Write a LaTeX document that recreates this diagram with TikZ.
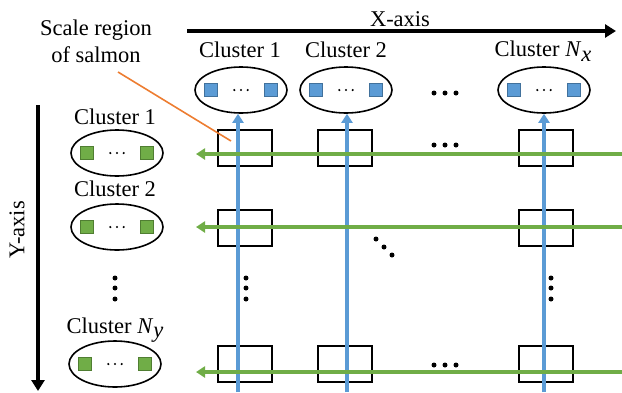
\documentclass[tikz,border=0pt]{standalone}
\usepackage{fontspec}
\setmainfont{Liberation Serif}
\usetikzlibrary{arrows.meta,shapes.geometric}
\definecolor{oblue}{HTML}{5B9BD5}
\definecolor{obluedk}{HTML}{41719C}
\definecolor{ogreen}{HTML}{70AD47}
\definecolor{ogreendk}{HTML}{507E32}
\definecolor{oorange}{HTML}{ED7D31}
\newcommand{\idx}[1]{\textit{N}\raisebox{-0.45ex}{\textit{#1}}}
\begin{document}
\begin{tikzpicture}[x=1pt,y=-1pt,
  every node/.style={font=\fontsize{22.5}{26}\selectfont},
  clus/.style={ellipse,draw,line width=1.6pt,minimum width=92pt,minimum height=46pt,inner sep=0pt},
  cell/.style={draw,line width=1.6pt,minimum width=54pt,minimum height=36pt,inner sep=0pt},
  bsq/.style={draw=obluedk,fill=oblue,line width=0.8pt,minimum size=13pt,inner sep=0pt},
  gsq/.style={draw=ogreendk,fill=ogreen,line width=0.8pt,minimum size=13pt,inner sep=0pt},
  axis/.style={line width=3.2pt,-{Triangle[length=11pt,width=13pt]}},
  xflow/.style={oblue,line width=3.2pt,-{Triangle[length=9pt,width=11pt]}},
  yflow/.style={ogreen,line width=3.2pt,-{Triangle[length=9pt,width=11pt]}},
  dot/.style={circle,fill,inner sep=0pt,minimum size=5pt},
  sdot/.style={circle,fill,inner sep=0pt,minimum size=2.4pt}
]
\useasboundingbox (0,0) rectangle (622,392);

% axes
\coordinate (xa0) at (187,31);
\coordinate (xa1) at (616,31);
\draw[axis] (xa0) -- (xa1);
\node (xlab) at (400,19) {X-axis};
\coordinate (ya0) at (38,105);
\coordinate (ya1) at (38,391);
\draw[axis] (ya0) -- (ya1);
\node[rotate=90] (ylab) at (17,230) {Y-axis};

% column clusters along X
\node (cx1) at (240,50) {Cluster 1};
\node (cx2) at (346,50) {Cluster 2};
\node (cxn) at (543,51) {Cluster \idx{x}};
\foreach \n/\x in {1/241,2/346,n/544}{
  \node[clus] (ex\n) at (\x,90) {};
  \node[bsq] (ex\n l) at (\x-30,90) {};
  \node[bsq] (ex\n r) at (\x+30,90) {};
  \foreach \k in {-1,0,1}{\node[sdot] at (\x+6.7*\k,90) {};}
}

% row clusters along Y
\node (cy1) at (115,117) {Cluster 1};
\node (cy2) at (115,189) {Cluster 2};
\node (cyn) at (115,330) {Cluster \idx{y}};
\foreach \n/\x/\y in {1/117/153,2/117/227,n/115/364}{
  \node[clus] (ey\n) at (\x,\y) {};
  \node[gsq] (ey\n l) at (\x-30,\y) {};
  \node[gsq] (ey\n r) at (\x+30,\y) {};
  \foreach \k in {-1,0,1}{\node[sdot] at (\x+6.7*\k,\y) {};}
}

% grid cells
\foreach \c/\x in {1/245,2/345,n/546}{
  \node[cell] (b1\c) at (\x,148) {};
  \node[cell] (bn\c) at (\x,364) {};
}
\node[cell] (b21) at (245,228) {};
\node[cell] (b2n) at (546,228) {};

% vertical flows into the column clusters
\foreach \n/\x in {1/238,2/347,n/544}{
  \coordinate (vb\n) at (\x,392);
  \draw[xflow] (vb\n) -- (vb\n |- ex\n.south);
}

% horizontal flows into the row clusters
\foreach \n/\y in {1/154,2/227,n/372}{
  \coordinate (hr\n) at (622,\y);
  \coordinate (hl\n) at (196,\y);
  \draw[yflow] (hr\n) -- (hl\n);
}

% ellipsis dots
\foreach \i/\x in {1/434,2/445,3/456}{
  \node[dot] (dt\i) at (\x,93) {};
  \node[dot] (dm\i) at (\x,145) {};
  \node[dot] (db\i) at (\x,365) {};
}
\foreach \i/\y in {1/278,2/288,3/299}{
  \node[dot] (vl\i) at (115,\y) {};
  \node[dot] (vc\i) at (246,\y) {};
  \node[dot] (vr\i) at (551,\y) {};
}
\foreach \i/\x/\y in {1/376/239,2/384/247,3/392/255}{
  \node[dot] (dg\i) at (\x,\y) {};
}

% annotation
\node[align=center,font=\fontsize{22.5}{27}\selectfont] (scale) at (96,41) {Scale region\\of salmon};
\coordinate (sc0) at (118,72);
\coordinate (sc1) at (231,141);
\draw[oorange,line width=1.6pt] (sc0) -- (sc1);
\end{tikzpicture}
\end{document}
